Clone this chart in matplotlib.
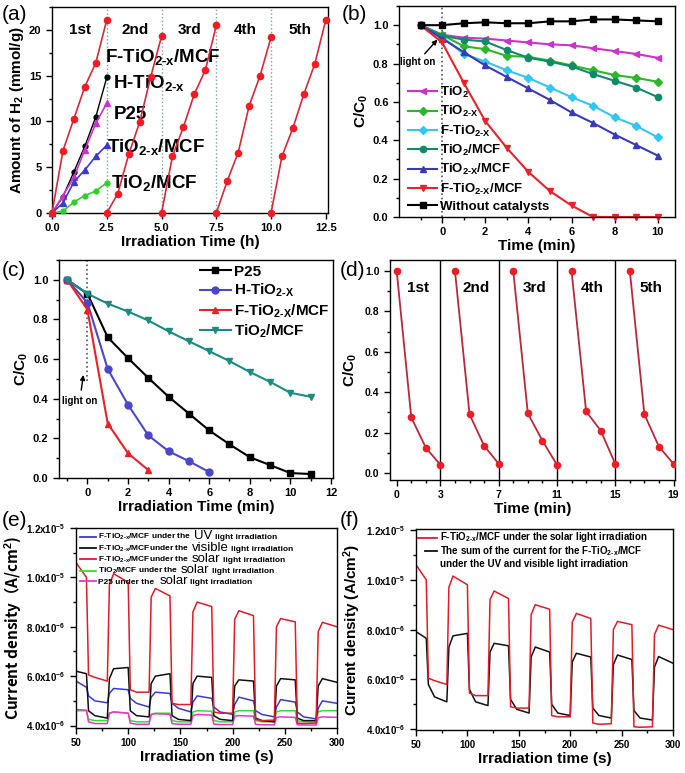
import matplotlib
matplotlib.use('Agg')
import matplotlib.pyplot as plt
from matplotlib.ticker import MultipleLocator, FixedLocator, FixedFormatter

plt.rcParams.update({
    'font.family': ['Liberation Sans', 'DejaVu Sans'],
    'font.weight': 'bold',
    'axes.labelweight': 'bold',
    'mathtext.fontset': 'custom',
    'mathtext.rm': 'Liberation Sans:bold',
    'mathtext.bf': 'Liberation Sans:bold',
    'mathtext.it': 'Liberation Sans:bold',
    'mathtext.default': 'bf',
    'axes.linewidth': 1.0,
    'xtick.direction': 'out',
    'ytick.direction': 'out',
    'xtick.major.size': 4,
    'ytick.major.size': 4,
    'xtick.minor.size': 2.5,
    'ytick.minor.size': 2.5,
})

HY = '\u2010'  # typographic hyphen for "2-x" subscripts
SUB2X = '$_{2' + HY + 'x}$'
SUB2XC = '$_{2' + HY + 'X}$'

# ---------------- data ----------------
# (a) H2 evolution
a_cycle_time = [0, 0.5, 1.0, 1.5, 2.0, 2.5]
a_cycle_starts = [0, 2.5, 5.0, 7.5, 10.0]
a_f_tio2x_mcf = [
    [0, 6.8, 10.3, 13.8, 16.4, 21.1],
    [0, 2.1, 6.4, 9.9, 14.8, 19.3],
    [0, 6.2, 9.4, 13.0, 15.6, 20.5],
    [0, 3.5, 6.6, 11.7, 15.0, 19.2],
    [0, 6.2, 9.3, 13.0, 16.3, 21.1],
]
a_h_tio2x = [0, 1.8, 4.5, 7.3, 10.5, 14.8]
a_p25 = [0, 1.9, 3.9, 6.9, 9.8, 12.0]
a_tio2x_mcf = [0, 1.1, 3.4, 4.7, 6.2, 7.4]
a_tio2_mcf = [0, 0.2, 1.2, 1.9, 2.4, 3.3]
a_cycle_labels = ['1st', '2nd', '3rd', '4th', '5th']

# (b) degradation, different catalysts
b_time = [-1, 0, 1, 2, 3, 4, 5, 6, 7, 8, 9, 10]
b_tio2 = [1.0, 0.95, 0.935, 0.93, 0.92, 0.91, 0.90, 0.895, 0.88, 0.865, 0.85, 0.83]
b_tio2x = [1.0, 0.95, 0.89, 0.875, 0.84, 0.835, 0.815, 0.79, 0.765, 0.74, 0.725, 0.705]
b_f_tio2x = [1.0, 0.94, 0.85, 0.81, 0.765, 0.725, 0.675, 0.625, 0.58, 0.52, 0.475, 0.415]
b_tio2_mcf = [1.0, 0.945, 0.925, 0.915, 0.87, 0.83, 0.81, 0.785, 0.745, 0.71, 0.675, 0.625]
b_tio2x_mcf = [1.0, 0.93, 0.86, 0.79, 0.73, 0.67, 0.61, 0.545, 0.49, 0.43, 0.375, 0.32]
b_f_tio2x_mcf = [1.0, 0.91, 0.70, 0.50, 0.36, 0.235, 0.135, 0.06, 0.0, 0.0, 0.0, 0.0]
b_none = [1.0, 1.0, 1.01, 1.015, 1.01, 1.01, 1.02, 1.02, 1.03, 1.03, 1.025, 1.02]

# (c) degradation
c_time_p25 = [-1, 0, 1, 2, 3, 4, 5, 6, 7, 8, 9, 10, 11]
c_p25 = [1.0, 0.93, 0.71, 0.605, 0.505, 0.41, 0.325, 0.24, 0.17, 0.105, 0.065, 0.025, 0.02]
c_time_h = [-1, 0, 1, 2, 3, 4, 5, 6]
c_h_tio2x = [1.0, 0.885, 0.55, 0.37, 0.215, 0.135, 0.085, 0.03]
c_time_f = [-1, 0, 1, 2, 3]
c_f_tio2x_mcf = [1.0, 0.85, 0.275, 0.125, 0.04]
c_time_t = [-1, 0, 1, 2, 3, 4, 5, 6, 7, 8, 9, 10, 11]
c_tio2_mcf = [1.0, 0.93, 0.88, 0.84, 0.795, 0.74, 0.69, 0.64, 0.59, 0.535, 0.485, 0.43, 0.41]

# (d) recycling
d_cycle_time = [0, 1, 2, 3]
d_cycle_starts = [0, 4, 8, 12, 16]
d_cycles = [
    [1.0, 0.275, 0.125, 0.04],
    [1.0, 0.29, 0.135, 0.045],
    [1.0, 0.295, 0.16, 0.04],
    [1.0, 0.305, 0.21, 0.045],
    [1.0, 0.29, 0.13, 0.045],
]
d_ticks = [0, 3, 7, 11, 15, 19]
d_labels = ['1st', '2nd', '3rd', '4th', '5th']

# (e)/(f) photocurrent (units of 1e-6 A/cm2)
pc_time = [50, 60, 62, 68, 80, 82, 86, 100, 102, 108, 120, 122, 126, 140, 142, 148, 160,
           162, 166, 180, 182, 188, 200, 202, 206, 220, 222, 228, 240, 242, 246, 260,
           262, 268, 280, 282, 286, 300]
pc_solar = [10.6, 10.0, 6.05, 5.95, 5.8, 9.7, 10.15, 9.8, 5.45, 5.35, 5.35, 9.2, 9.55, 9.25,
            4.9, 4.85, 4.85, 8.6, 9.0, 8.82, 4.55, 4.5, 4.5, 8.3, 8.65, 8.45, 4.25, 4.2,
            4.22, 8.0, 8.33, 8.2, 4.1, 4.08, 4.1, 7.8, 8.18, 8.0]
pc_uv = [5.8, 5.55, 5.2, 5.0, 4.92, 5.3, 5.5, 5.45, 5.1, 4.9, 4.75, 5.15, 5.35, 5.3, 4.9,
         4.7, 4.55, 4.95, 5.2, 5.1, 4.75, 4.55, 4.45, 4.85, 5.15, 5.0, 4.6, 4.45, 4.35,
         4.75, 5.05, 4.95, 4.55, 4.35, 4.27, 4.7, 5.0, 4.9]
pc_visible = [6.2, 6.1, 4.6, 4.4, 4.3, 5.9, 6.3, 6.35, 4.6, 4.4, 4.35, 5.7, 6.0, 6.1, 4.4,
              4.25, 4.2, 5.7, 6.0, 5.95, 4.4, 4.25, 4.2, 5.6, 5.85, 5.8, 4.3, 4.2, 4.15,
              5.6, 5.9, 5.85, 4.3, 4.2, 4.2, 5.6, 5.9, 5.75]
pc_tio2_mcf = [4.6, 4.6, 4.25, 4.2, 4.2, 4.5, 4.55, 4.5, 4.2, 4.15, 4.15, 4.45, 4.5, 4.5,
               4.2, 4.15, 4.15, 4.55, 4.6, 4.58, 4.2, 4.15, 4.15, 4.55, 4.6, 4.6, 4.2,
               4.15, 4.15, 4.55, 4.6, 4.6, 4.2, 4.15, 4.15, 4.55, 4.6, 4.6]
pc_p25 = [4.65, 4.62, 4.15, 4.08, 4.08, 4.5, 4.55, 4.5, 4.1, 4.05, 4.05, 4.45, 4.48, 4.45,
          4.08, 4.05, 4.05, 4.4, 4.45, 4.42, 4.06, 4.04, 4.04, 4.38, 4.4, 4.38, 4.05,
          4.03, 4.03, 4.33, 4.35, 4.33, 4.03, 4.02, 4.02, 4.32, 4.35, 4.33]
pc_sum = [7.92, 7.65, 5.8, 5.3, 5.1, 7.3, 7.75, 7.85, 5.6, 5.1, 4.95, 7.1, 7.45, 7.35, 5.2,
          4.8, 4.65, 6.9, 7.3, 7.1, 5.0, 4.65, 4.55, 6.7, 7.05, 6.9, 4.85, 4.55, 4.45,
          6.6, 6.98, 6.8, 4.75, 4.45, 4.37, 6.5, 6.92, 6.65]
pc_yticks = [4, 6, 8, 10, 12]
pc_yticklabels = ['4.0x10$^{-6}$', '6.0x10$^{-6}$', '8.0x10$^{-6}$', '1.0x10$^{-5}$', '1.2x10$^{-5}$']

# ---------------- figure ----------------
W, H = 685, 773
fig = plt.figure(figsize=(W / 100, H / 100), dpi=100)


def add_ax(l, r, t, b):
    return fig.add_axes([l / W, 1 - b / H, (r - l) / W, (b - t) / H])


def style(ax, fs=8):
    for lab in ax.get_xticklabels() + ax.get_yticklabels():
        lab.set_fontweight('bold')
    ax.tick_params(labelsize=fs, width=1)
    ax.tick_params(which='minor', width=1)
    ax.tick_params(top=False, right=False)


RED = '#ee1c25'

# ----- (a) -----
axa = add_ax(52, 328, 7, 213)
for s, ys in zip(a_cycle_starts, a_f_tio2x_mcf):
    xs = [s + t for t in a_cycle_time]
    axa.plot(xs, ys, '-o', color='#d42a3c', mfc=RED, mec=RED, ms=4.5, lw=1.2, clip_on=False, zorder=5)
axa.plot(a_cycle_time, a_h_tio2x, '-o', color='k', ms=3.5, lw=1.0, clip_on=False, zorder=4)
axa.plot(a_cycle_time, a_p25, '-^', color='#cc33cc', ms=4, lw=1.2, clip_on=False, zorder=4)
axa.plot(a_cycle_time, a_tio2x_mcf, '-^', color='#3a3ad0', ms=4, lw=1.2, clip_on=False, zorder=4)
axa.plot(a_cycle_time, a_tio2_mcf, '-o', color='#33cc33', ms=3.5, lw=1.2, clip_on=False, zorder=4)
for s in a_cycle_starts[1:]:
    axa.axvline(s, color='#7fa0a0', ls=':', lw=1.0, zorder=1)
for i, lab in enumerate(a_cycle_labels):
    axa.text(a_cycle_starts[i] + 1.3, 20.0, lab, ha='center', va='center', fontsize=11, fontweight='bold')
axa.text(2.42, 16.5, 'F-TiO' + SUB2X + '/MCF', fontsize=13.5, fontweight='bold', va='baseline')
axa.text(2.78, 13.6, 'H-TiO' + SUB2X, fontsize=13.5, fontweight='bold', va='baseline')
axa.text(2.83, 10.3, 'P25', fontsize=13.5, fontweight='bold', va='baseline')
axa.text(2.5, 6.7, 'TiO' + SUB2X + '/MCF', fontsize=13.5, fontweight='bold', va='baseline')
axa.text(2.68, 2.7, 'TiO$_2$/MCF', fontsize=13.5, fontweight='bold', va='baseline')
axa.set_xlim(0, 12.6)
axa.set_ylim(0, 22.5)
axa.xaxis.set_major_locator(MultipleLocator(2.5))
axa.yaxis.set_major_locator(MultipleLocator(5))
axa.yaxis.set_minor_locator(MultipleLocator(2.5))
axa.xaxis.set_major_formatter(matplotlib.ticker.FormatStrFormatter('%.1f'))
axa.set_xlabel('Irradiation Time (h)', fontsize=11, labelpad=1)
axa.set_ylabel('Amount of H$_2$ (mmol/g)', fontsize=11, labelpad=2)
style(axa)

# ----- (b) -----
axb = add_ax(399, 675, 6, 217)
axb.axvline(0, color='#555555', ls=':', lw=1.2, zorder=1)
b_series = [
    (b_tio2, 'TiO$_2$', '#cc33cc', '<'),
    (b_tio2x, 'TiO' + SUB2XC, '#2ab82a', 'D'),
    (b_f_tio2x, 'F-TiO' + SUB2XC, '#33c6ee', 'D'),
    (b_tio2_mcf, 'TiO$_2$/MCF', '#128a6a', 'o'),
    (b_tio2x_mcf, 'TiO' + SUB2XC + '/MCF', '#3a3ab8', '^'),
    (b_f_tio2x_mcf, 'F-TiO' + SUB2XC + '/MCF', '#e82228', 'v'),
    (b_none, 'Without catalysts', 'k', 's'),
]
for ys, lab, col, mk in b_series:
    axb.plot(b_time, ys, '-', marker=mk, color=col, ms=4.5, lw=1.5, label=lab, clip_on=False)
axb.annotate('light on', xy=(-0.22, 0.925), xytext=(-1.95, 0.81), fontsize=7, fontweight='bold',
             va='center', ha='left',
             arrowprops=dict(arrowstyle='-|>', color='k', lw=1.0, shrinkA=0, shrinkB=0,
                             mutation_scale=7),
             )
axb.set_xlim(-2, 10.8)
axb.set_ylim(0, 1.1)
axb.xaxis.set_major_locator(FixedLocator([0, 2, 4, 6, 8, 10]))
axb.xaxis.set_minor_locator(FixedLocator([-1, 1, 3, 5, 7, 9]))
axb.yaxis.set_major_locator(MultipleLocator(0.2))
axb.yaxis.set_minor_locator(MultipleLocator(0.1))
axb.yaxis.set_major_formatter(matplotlib.ticker.FormatStrFormatter('%.1f'))
axb.set_xlabel('Time (min)', fontsize=11, labelpad=1)
axb.set_ylabel('C/C$_0$', fontsize=11, labelpad=2)
axb.legend(loc='lower left', bbox_to_anchor=(0.0, -0.025), frameon=False, fontsize=9.5,
           handlelength=2.2, handletextpad=0.2, labelspacing=0.32, borderaxespad=0.3)
style(axb)

# ----- (c) -----
axc = add_ax(59, 333, 260, 478)
axc.plot([0, 0], [0.49, 1.1], color='#555555', ls=':', lw=1.2, zorder=1)
axc.plot(c_time_p25, c_p25, '-s', color='k', ms=4.5, lw=1.5, label='P25')
axc.plot(c_time_h, c_h_tio2x, '-o', color='#4a48c8', ms=5, lw=1.5, label='H-TiO' + SUB2XC)
axc.plot(c_time_f, c_f_tio2x_mcf, '-^', color='#e82228', ms=5, lw=1.5, label='F-TiO' + SUB2XC + '/MCF')
axc.plot(c_time_t, c_tio2_mcf, '-v', color='#1a8c80', ms=5, lw=1.5, label='TiO$_2$/MCF')
axc.annotate('light on', xy=(-0.2, 0.52), xytext=(-1.25, 0.39), fontsize=7, fontweight='bold',
             va='center', ha='left',
             arrowprops=dict(arrowstyle='-|>', color='k', lw=1.0, shrinkA=2, shrinkB=0,
                             mutation_scale=7))
axc.set_xlim(-1.4, 12.1)
axc.set_ylim(0, 1.1)
axc.xaxis.set_major_locator(FixedLocator([0, 2, 4, 6, 8, 10, 12]))
axc.xaxis.set_minor_locator(FixedLocator([-1, 1, 3, 5, 7, 9, 11]))
axc.yaxis.set_major_locator(MultipleLocator(0.2))
axc.yaxis.set_minor_locator(MultipleLocator(0.1))
axc.yaxis.set_major_formatter(matplotlib.ticker.FormatStrFormatter('%.1f'))
axc.set_xlabel('Irradiation Time (min)', fontsize=11, labelpad=1)
axc.set_ylabel('C/C$_0$', fontsize=11, labelpad=2)
axc.legend(loc='upper right', bbox_to_anchor=(1.02, 1.02), frameon=False, fontsize=11,
           handlelength=2.0, handletextpad=0.2, labelspacing=0.2, borderaxespad=0.2)
style(axc)

# ----- (d) -----
axd = add_ax(390, 675, 260, 480)
for s, ys in zip(d_cycle_starts, d_cycles):
    xs = [s + t for t in d_cycle_time]
    axd.plot(xs, ys, '-o', color='#b8283a', mfc=RED, mec=RED, ms=4.5, lw=1.3, zorder=5)
for v in d_ticks[1:-1]:
    axd.axvline(v, color='k', lw=1.0, zorder=1)
for s, lab in zip(d_cycle_starts, d_labels):
    axd.text(s + 1.45, 0.915, lab, ha='center', va='center', fontsize=11, fontweight='bold')
axd.set_xlim(-0.46, 19.1)
axd.set_ylim(-0.035, 1.055)
axd.xaxis.set_major_locator(FixedLocator(d_ticks))
axd.xaxis.set_minor_locator(MultipleLocator(1))
axd.yaxis.set_major_locator(MultipleLocator(0.2))
axd.yaxis.set_minor_locator(MultipleLocator(0.1))
axd.yaxis.set_major_formatter(matplotlib.ticker.FormatStrFormatter('%.1f'))
axd.set_xlabel('Time (min)', fontsize=11, labelpad=1)
axd.set_ylabel('C/C$_0$', fontsize=11, labelpad=4)
style(axd, fs=7.5)

# ----- (e) -----
axe = add_ax(76, 337, 528, 728)
e_series = [
    (pc_uv, '#3a3ad0'),
    (pc_visible, '#111111'),
    (pc_solar, '#e01b2a'),
    (pc_tio2_mcf, '#33dd33'),
    (pc_p25, '#ee33cc'),
]
for ys, col in [e_series[3], e_series[4], e_series[0], e_series[1], e_series[2]]:
    axe.plot(pc_time, ys, '-', color=col, lw=1.1)
axe.set_xlim(50, 300)
axe.set_ylim(3.9, 12.0)
axe.xaxis.set_major_locator(MultipleLocator(50))
axe.xaxis.set_minor_locator(MultipleLocator(25))
axe.yaxis.set_major_locator(FixedLocator(pc_yticks))
axe.yaxis.set_major_formatter(FixedFormatter(pc_yticklabels))
axe.yaxis.set_minor_locator(MultipleLocator(1))
axe.set_xlabel('Irradiation time (s)', fontsize=11, labelpad=1)
axe.set_ylabel('Current density（A/cm$^2$)', fontsize=11, labelpad=2,
               family=['Noto Sans CJK SC', 'Liberation Sans'])
style(axe, fs=7)

# ----- (f) -----
axf = add_ax(416, 673, 529, 730)
axf.plot(pc_time, pc_sum, '-', color='#111111', lw=1.1)
axf.plot(pc_time, pc_solar, '-', color='#e01b2a', lw=1.1)
axf.set_xlim(50, 300)
axf.set_ylim(3.97, 12.04)
axf.xaxis.set_major_locator(MultipleLocator(50))
axf.xaxis.set_minor_locator(MultipleLocator(25))
axf.yaxis.set_major_locator(FixedLocator(pc_yticks))
axf.yaxis.set_major_formatter(FixedFormatter(pc_yticklabels))
axf.yaxis.set_minor_locator(MultipleLocator(1))
axf.set_xlabel('Irradiation time (s)', fontsize=11, labelpad=1)
axf.set_ylabel('Current density (A/cm$^2$)', fontsize=11, labelpad=2)
style(axf, fs=7)

# manual legends for (e) and (f)
renderer = fig.canvas.get_renderer()


def rich_row(ax, y, color, pieces, hx0, hx1, tx):
    ax.plot([hx0, hx1], [y + 0.012, y + 0.012], color=color, lw=1.3, transform=ax.transAxes,
            clip_on=False)
    x = tx
    for s, size, weight in pieces:
        t = ax.text(x, y, s, transform=ax.transAxes, fontsize=size, fontweight=weight,
                    va='baseline', ha='left')
        bb = t.get_window_extent(renderer)
        x = ax.transAxes.inverted().transform((bb.x1 + 2.5, bb.y0))[0]


e_rows = [
    ('#3a3ad0', 'F-TiO' + SUB2X + '/MCF under the ', 'UV'),
    ('#111111', 'F-TiO' + SUB2X + '/MCFunder the ', 'visible'),
    ('#e01b2a', 'F-TiO' + SUB2X + '/MCFunder the ', 'solar'),
    ('#33dd33', 'TiO$_2$/MCF under the ', 'solar'),
    ('#ee33cc', 'P25 under the ', 'solar'),
]
e_row_y = [0.944, 0.887, 0.832, 0.775, 0.722]
for (col, pre, big), y in zip(e_rows, e_row_y):
    rich_row(axe, y, col, [(pre, 6, 'bold'), (big, 9.5, 'normal'), ('light irradiation', 6, 'bold')],
             0.015, 0.075, 0.085)

f_rows = [
    ('#e01b2a', 'F-TiO' + SUB2X + '/MCF under the solar light irradiation', 0.008),
    ('#111111', 'The sum of the current for the F-TiO' + SUB2X + '/MCF', 0.035),
]
f_row_y = [0.945, 0.877]
for (col, txt, hx0), y in zip(f_rows, f_row_y):
    rich_row(axf, y, col, [(txt, 7, 'bold')], hx0, 0.08, 0.093)
axf.text(0.093, 0.812, 'under the UV and visible light irradiation', transform=axf.transAxes,
         fontsize=7, fontweight='bold', va='baseline', ha='left')

# panel labels
for lab, x, y in [('(a)', 2, 14), ('(b)', 342, 14), ('(c)', 2, 270), ('(d)', 340, 270),
                  ('(e)', 2, 521), ('(f)', 340, 520)]:
    fig.text(x / W, 1 - y / H, lab, fontsize=15, fontweight='normal', va='center', ha='left')

fig.savefig('out.png', dpi=100)
